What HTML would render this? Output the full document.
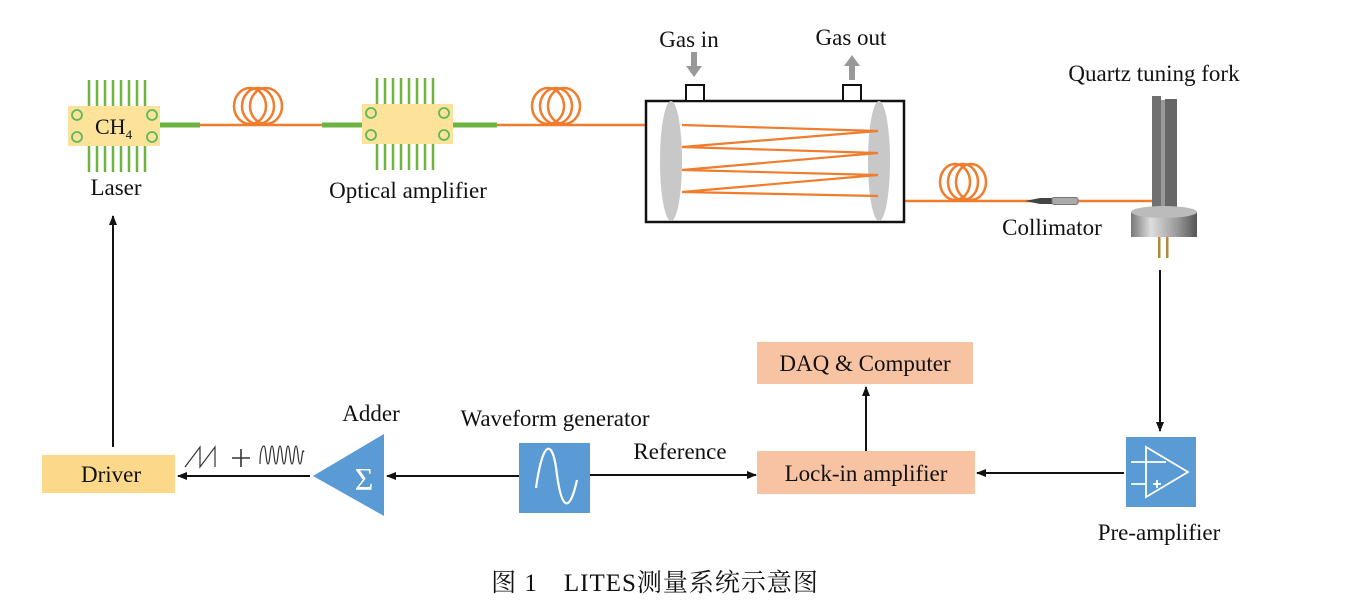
<!DOCTYPE html>
<html><head><meta charset="utf-8"><style>
body{margin:0;background:#fff;}
svg text{font-family:"Liberation Serif","Noto Serif CJK SC",serif;fill:#111;}
</style></head><body>
<svg width="1357" height="602" viewBox="0 0 1357 602" xmlns="http://www.w3.org/2000/svg">
<defs>
<marker id="ar" markerWidth="10" markerHeight="10" refX="9" refY="5" orient="auto" markerUnits="userSpaceOnUse"><path d="M0,1 L10,5 L0,9 Z" fill="#111"/></marker>
<linearGradient id="cyl" x1="0" x2="1"><stop offset="0" stop-color="#777"/><stop offset="0.3" stop-color="#ddd"/><stop offset="0.7" stop-color="#999"/><stop offset="1" stop-color="#555"/></linearGradient>
</defs>
<g stroke="#6db33f" stroke-width="2.5">
<path d="M89,80V106M97,80V106M105,80V106M113,80V106M121,80V106M129,80V106M137,80V106M145,80V106"/>
<path d="M89,146V172M97,146V172M105,146V172M113,146V172M121,146V172M129,146V172M137,146V172M145,146V172"/>
<path d="M377,78V104M385,78V104M393,78V104M401,78V104M409,78V104M417,78V104M425,78V104M433,78V104"/>
<path d="M377,144V170M385,144V170M393,144V170M401,144V170M409,144V170M417,144V170M425,144V170M433,144V170"/>
</g>
<rect x="68" y="106" width="92" height="40" fill="#fde39a"/>
<rect x="362" y="104" width="91" height="40" fill="#fde39a"/>
<g fill="none" stroke="#5cb85c" stroke-width="1.8">
<circle cx="77" cy="115" r="5"/><circle cx="77" cy="137" r="5"/><circle cx="152" cy="115" r="5"/><circle cx="152" cy="137" r="5"/>
<circle cx="371" cy="113" r="5"/><circle cx="371" cy="135" r="5"/><circle cx="444" cy="113" r="5"/><circle cx="444" cy="135" r="5"/>
</g>
<text x="95" y="134" font-size="22">CH<tspan font-size="13" dy="5">4</tspan></text>
<text x="116" y="195" font-size="23" text-anchor="middle">Laser</text>
<text x="408" y="198" font-size="23" text-anchor="middle">Optical amplifier</text>
<g stroke="#6db33f" stroke-width="5"><path d="M160,125H200M322,125H362M453,125H497"/></g>
<g stroke="#ef7d2d" stroke-width="2.5" fill="none">
<path d="M200,125H322M497,125H645M905,201H1162"/>
<ellipse cx="250" cy="106" rx="16" ry="18"/><ellipse cx="258" cy="106" rx="16" ry="18"/><ellipse cx="266" cy="106" rx="16" ry="18"/>
<ellipse cx="548" cy="106" rx="16" ry="18"/><ellipse cx="556" cy="106" rx="16" ry="18"/><ellipse cx="564" cy="106" rx="16" ry="18"/>
<ellipse cx="955" cy="182" rx="15" ry="18"/><ellipse cx="963" cy="182" rx="15" ry="18"/><ellipse cx="971" cy="182" rx="15" ry="18"/>
</g>
<rect x="646" y="101" width="258" height="121" fill="#fff" stroke="#111" stroke-width="2.5"/>
<rect x="686" y="85" width="18" height="16" fill="#fff" stroke="#111" stroke-width="2"/>
<rect x="843" y="85" width="18" height="16" fill="#fff" stroke="#111" stroke-width="2"/>
<ellipse cx="671" cy="161" rx="11" ry="60" fill="#c8c8c8"/>
<ellipse cx="879" cy="161" rx="11" ry="60" fill="#c8c8c8"/>
<polyline points="682,125 878,131 682,147 878,153 682,170 878,175 682,192 878,196" fill="none" stroke="#ef7d2d" stroke-width="2.2"/>
<path d="M691,52h6v14h5l-8,11l-8,-11h5z" fill="#999"/>
<path d="M849,80h6v-14h5l-8,-11l-8,11h5z" fill="#999"/>
<text x="689" y="47" font-size="23" text-anchor="middle">Gas in</text>
<text x="851" y="45" font-size="23" text-anchor="middle">Gas out</text>
<path d="M1025,201 L1040,198 H1052 V204 H1040 Z" fill="#444"/>
<rect x="1052" y="197.5" width="26" height="7" rx="2" fill="#aaa" stroke="#777"/>
<text x="1052" y="235" font-size="23" text-anchor="middle">Collimator</text>
<text x="1154" y="81" font-size="23" text-anchor="middle">Quartz tuning fork</text>
<rect x="1152" y="96" width="9" height="114" fill="#707070"/>
<rect x="1161" y="100" width="4" height="110" fill="#999"/>
<rect x="1165" y="99" width="12" height="111" fill="#666"/>
<rect x="1131" y="212" width="66" height="25" fill="url(#cyl)"/>
<ellipse cx="1164" cy="212" rx="33" ry="6" fill="#bbb"/>
<rect x="1158" y="237" width="2.5" height="21" fill="#b08a3a"/>
<rect x="1166" y="237" width="2.5" height="21" fill="#b08a3a"/>
<g stroke="#111" stroke-width="2" fill="none" marker-end="url(#ar)">
<path d="M1160,270V431"/>
<path d="M1124,473H977"/>
<path d="M866,451V387"/>
<path d="M590,475H756"/>
<path d="M519,476H387"/>
<path d="M310,476H178"/>
<path d="M113,447V216"/>
</g>
<rect x="1126" y="437" width="70" height="70" fill="#5b9bd5"/>
<g stroke="#fff" stroke-width="1.8" fill="none">
<path d="M1146,447V497L1188,472Z"/><path d="M1131,462H1166M1131,484H1146M1153,484h8M1157,480v8"/>
</g>
<text x="1159" y="540" font-size="23" text-anchor="middle">Pre-amplifier</text>
<rect x="757" y="451" width="218" height="43" fill="#f8c3a2"/>
<text x="866" y="481" font-size="23" text-anchor="middle">Lock-in amplifier</text>
<rect x="757" y="342" width="216" height="42" fill="#f8c3a2"/>
<text x="865" y="371" font-size="23" text-anchor="middle">DAQ &amp; Computer</text>
<text x="680" y="459" font-size="23" text-anchor="middle">Reference</text>
<rect x="519" y="443" width="71" height="70" fill="#5b9bd5"/>
<path d="M536,488 C543,438 553,438 557,475 C562,512 570,512 577,480" stroke="#fff" stroke-width="2.2" fill="none"/>
<text x="555" y="426" font-size="23" text-anchor="middle">Waveform generator</text>
<path d="M384,434V516L313,476Z" fill="#5b9bd5"/>
<text x="364" y="490" font-size="32" text-anchor="middle" style="fill:#fff">Σ</text>
<text x="371" y="421" font-size="23" text-anchor="middle">Adder</text>
<path d="M185,467L200,447V467L215,447V467" stroke="#333" stroke-width="1.2" fill="none"/>
<path d="M232,458H250M241,449V467" stroke="#333" stroke-width="1.6"/>
<path d="M260,464 C260,452 262,446 264,446 S266,464 268,464 S270,446 272,446 S274,464 276,464 S278,446 280,446 S282,464 284,464 S286,446 288,446 S290,464 292,464 S294,446 296,446 S298,464 300,464 S302,446 304,452" stroke="#333" stroke-width="1.2" fill="none"/>
<rect x="42" y="455" width="133" height="38" fill="#fcd98a"/>
<text x="111" y="482" font-size="23" text-anchor="middle">Driver</text>
<text x="655" y="591" font-size="25" letter-spacing="1" text-anchor="middle">图 1　LITES测量系统示意图</text>
</svg>
</body></html>
